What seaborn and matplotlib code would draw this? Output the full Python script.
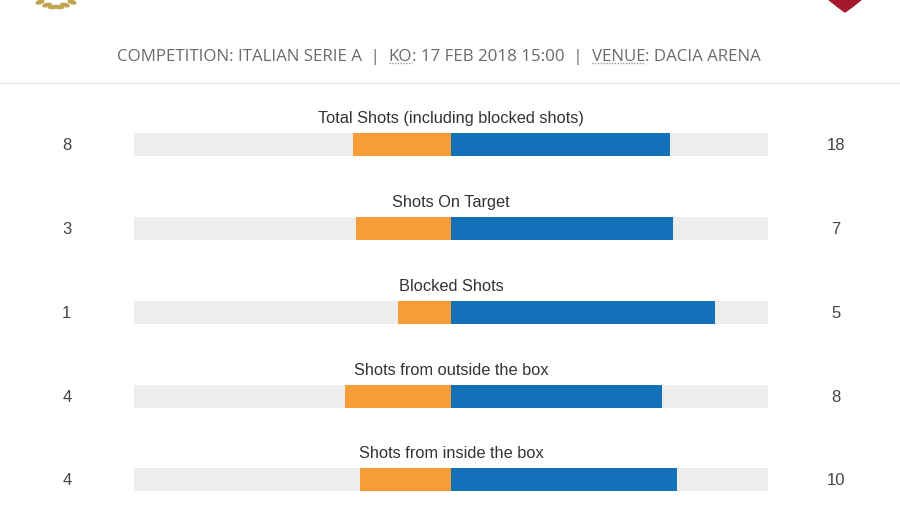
import matplotlib
matplotlib.use('Agg')
import matplotlib.pyplot as plt
import matplotlib.patches as mpatches
from matplotlib.text import Annotation
import seaborn as sns
import pandas as pd

# ── Data ───────────────────────────────────────────────────────────────────────
stats = ['Total Shots (including blocked shots)', 'Shots On Target', 'Blocked Shots',
         'Shots from outside the box', 'Shots from inside the box']
home = [8, 3, 1, 4, 4]
away = [18, 7, 5, 8, 10]
header_parts = ['COMPETITION: ITALIAN SERIE A  |  ', 'KO', ': 17 FEB 2018 15:00  |  ',
                'VENUE', ': DACIA ARENA']

ORANGE = '#F69D38'
BLUE = '#1271B9'
GREY = '#EDEDED'

df = pd.DataFrame({'stat': stats, 'home': home, 'away': away})
df['total'] = df['home'] + df['away']
df['home_share'] = -df['home'] / df['total']
df['away_share'] = df['away'] / df['total']

# ── Figure ─────────────────────────────────────────────────────────────────────
sns.set_theme(style='white')
plt.rcParams['font.family'] = ['Liberation Sans', 'DejaVu Sans']

W, H = 900, 506
fig = plt.figure(figsize=(9, 5.06), dpi=100)
fig.patch.set_facecolor('white')

# bars axes: x -1..1 maps to pixels 134..768, rows ~84 px apart
x0, x1 = 134, 768
top = 104.1
ax = fig.add_axes([x0 / W, 0, (x1 - x0) / W, (H - top) / H])
bh = 0.275
sns.barplot(x=[-1] * len(stats), y=stats, color=GREY, width=bh, saturation=1, ax=ax, orient='h')
sns.barplot(x=[1] * len(stats), y=stats, color=GREY, width=bh, saturation=1, ax=ax, orient='h')
sns.barplot(data=df, x='home_share', y='stat', color=ORANGE, width=bh, saturation=1, ax=ax, orient='h')
sns.barplot(data=df, x='away_share', y='stat', color=BLUE, width=bh, saturation=1, ax=ax, orient='h')
for p in ax.patches:
    p.set_linewidth(0)

ax.set_xlim(-1, 1)
ax.set_ylim(-0.5 + (H - top) / 83.75, -0.5)
ax.axis('off')

for i, row in df.iterrows():
    ax.text(0, i - 0.325, row['stat'], ha='center', va='center', fontsize=11.8, color='#333333')
    ax.text(-1.212, i, str(row['home']), ha='center', va='center', fontsize=12,
            color='#444444', clip_on=False)
    ax.text(1.215, i, str(row['away']), ha='center', va='center', fontsize=12,
            color='#444444', clip_on=False)

# ── Header ─────────────────────────────────────────────────────────────────────
hdr_kw = dict(fontsize=12.2, color='#6b6b6b', family=['Open Sans', 'DejaVu Sans'], va='bottom')
pieces = [fig.text(117 / W, 1 - 65 / H, header_parts[0], ha='left', **hdr_kw)]
for part in header_parts[1:]:
    pieces.append(fig.add_artist(Annotation(part, xy=(1, 0), xycoords=pieces[-1],
                                            ha='left', **hdr_kw)))

fig.canvas.draw()
renderer = fig.canvas.get_renderer()
for t in (pieces[1], pieces[3]):
    bb = t.get_window_extent(renderer)
    fig.add_artist(plt.Line2D([bb.x0 / W, bb.x1 / W], [(bb.y0 + 1) / H] * 2,
                              color='#9a9a9a', lw=1, ls=(0, (1, 1))))

# separator under header
fig.add_artist(plt.Line2D([0, 1], [1 - 84 / H] * 2, color='#e6e6e6', lw=1))

# team crests peeking in at the top
fig.add_artist(mpatches.Polygon([(828 / W, 1), (862 / W, 1), (852 / W, 1 - 8 / H),
                                 (845 / W, 1 - 13 / H), (838 / W, 1 - 8 / H)],
                                closed=True, color='#A3182B', transform=fig.transFigure))
for dx, dy, ang in [(-16, 3, 40), (-9, 6, 30), (-3, 8, 15), (3, 8, -15), (9, 6, -30), (16, 3, -40)]:
    fig.add_artist(mpatches.Ellipse(((56 + dx) / W, 1 - dy / H), 9 / W, 3 / H, angle=ang,
                                    color='#BFA550', transform=fig.transFigure))

plt.savefig('out.png', dpi=100, facecolor='white')
plt.close()
